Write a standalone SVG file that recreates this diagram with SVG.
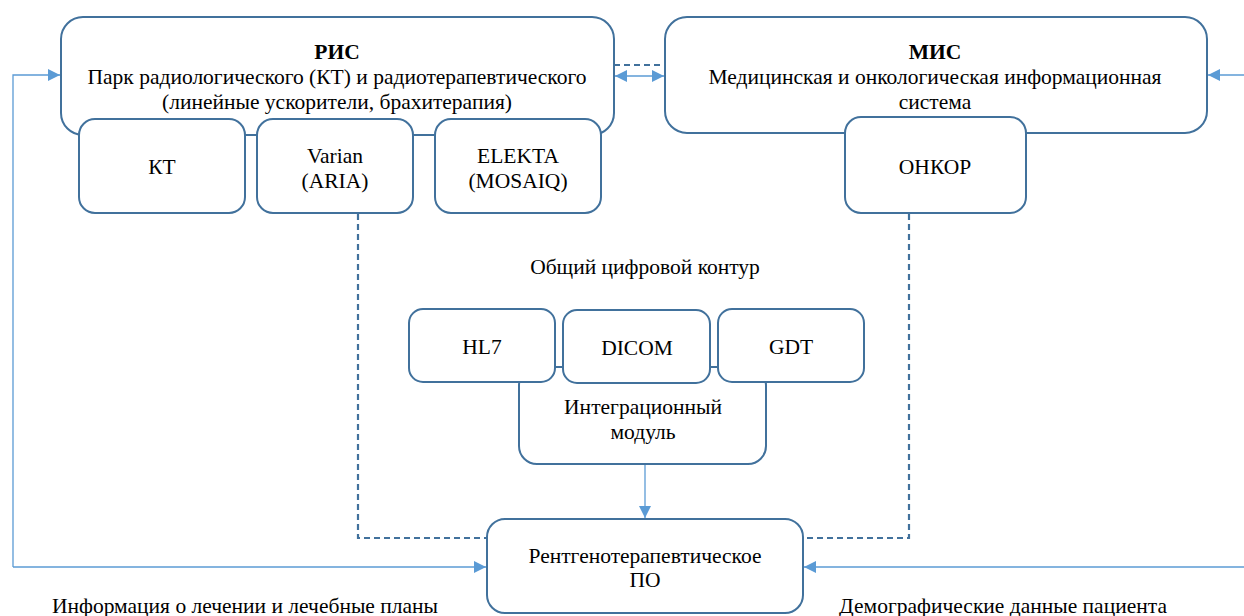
<svg xmlns="http://www.w3.org/2000/svg" width="1244" height="616" viewBox="0 0 1244 616">
  <style>
    .box { fill: #ffffff; stroke: #41719C; stroke-width: 2; }
    .t { font-family: 'Liberation Serif', 'Times New Roman', 'DejaVu Serif', serif; font-size: 21.5px; fill: #000000; text-anchor: middle; }
    .b { font-weight: bold; }
    .flow { fill: none; stroke: #5B9BD5; stroke-width: 1.3; }
    .dash { fill: none; stroke: #41719C; stroke-width: 2.2; stroke-dasharray: 6 4; }
  </style>
  <defs>
    <marker id="arr" viewBox="0 0 10 10" refX="10" refY="5" markerWidth="12" markerHeight="12" markerUnits="userSpaceOnUse" orient="auto-start-reverse">
      <path d="M0,0 L10,5 L0,10 z" fill="#5B9BD5"/>
    </marker>
  </defs>

  <!-- connectors -->
  <g id="connectors">
    <path class="dash" d="M614,65 H665"/>
    <path class="flow" d="M615,76 H664" marker-start="url(#arr)" marker-end="url(#arr)"/>
    <path class="flow" d="M13,567 V75 H60" marker-end="url(#arr)"/>
    <path class="flow" d="M13,567 H486" marker-end="url(#arr)"/>
    <path class="flow" d="M1244,75 H1208" marker-end="url(#arr)"/>
    <path class="flow" d="M1244,567 H804" marker-end="url(#arr)"/>
    <path class="dash" d="M358,214 V538 H487"/>
    <path class="dash" d="M909,214 V538 H803"/>
    <path class="flow" d="M645,465 V518" marker-end="url(#arr)"/>
  </g>

  <!-- РИС -->
  <g id="ris">
    <rect class="box" x="61" y="17" width="553" height="118" rx="22"/>
    <text class="t b" x="337" y="59">РИС</text>
    <text class="t" x="337" y="84">Парк радиологического (КТ) и радиотерапевтического</text>
    <text class="t" x="337" y="109">(линейные ускорители, брахитерапия)</text>
  </g>
  <g id="kt">
    <rect class="box" x="79" y="119" width="166" height="94" rx="16"/>
    <text class="t" x="162" y="174">КТ</text>
  </g>
  <g id="varian">
    <rect class="box" x="257" y="119" width="156" height="94" rx="16"/>
    <text class="t" x="335" y="163">Varian</text>
    <text class="t" x="335" y="188">(ARIA)</text>
  </g>
  <g id="elekta">
    <rect class="box" x="435" y="119" width="166" height="94" rx="16"/>
    <text class="t" x="518" y="163">ELEKTA</text>
    <text class="t" x="518" y="188">(MOSAIQ)</text>
  </g>

  <!-- МИС -->
  <g id="mis">
    <rect class="box" x="665" y="17" width="542" height="116" rx="22"/>
    <text class="t b" x="935" y="59">МИС</text>
    <text class="t" x="935" y="84">Медицинская и онкологическая информационная</text>
    <text class="t" x="935" y="109">система</text>
  </g>
  <g id="onkor">
    <rect class="box" x="845" y="117" width="181" height="96" rx="16"/>
    <text class="t" x="935" y="174">ОНКОР</text>
  </g>

  <text class="t" x="645" y="274">Общий цифровой контур</text>

  <!-- Интеграционный модуль -->
  <g id="module">
    <rect class="box" x="519" y="367" width="247" height="97" rx="18"/>
    <text class="t" x="643" y="414">Интеграционный</text>
    <text class="t" x="643" y="439">модуль</text>
  </g>
  <g id="hl7">
    <rect class="box" x="409" y="309" width="146" height="73" rx="14"/>
    <text class="t" x="482" y="354">HL7</text>
  </g>
  <g id="dicom">
    <rect class="box" x="563" y="310" width="147" height="73" rx="14"/>
    <text class="t" x="637" y="355">DICOM</text>
  </g>
  <g id="gdt">
    <rect class="box" x="718" y="309" width="146" height="73" rx="14"/>
    <text class="t" x="791" y="354">GDT</text>
  </g>

  <!-- Рентгенотерапевтическое ПО -->
  <g id="xray">
    <rect class="box" x="487" y="519" width="316" height="94" rx="18"/>
    <text class="t" x="645" y="563">Рентгенотерапевтическое</text>
    <text class="t" x="645" y="587">ПО</text>
  </g>

  <text class="t" x="245" y="613">Информация о лечении и лечебные планы</text>
  <text class="t" x="1003" y="613">Демографические данные пациента</text>
</svg>
